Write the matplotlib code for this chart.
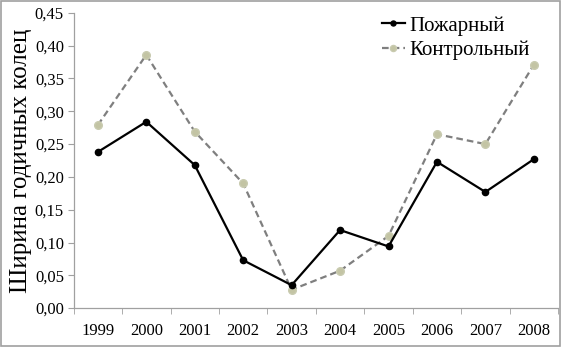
import matplotlib
matplotlib.use('Agg')
import matplotlib.pyplot as plt
from matplotlib.ticker import FuncFormatter, MultipleLocator, FixedLocator
from matplotlib.patches import Rectangle
import numpy as np

years = ['1999', '2000', '2001', '2002', '2003', '2004', '2005', '2006', '2007', '2008']
fire = [0.238, 0.284, 0.218, 0.073, 0.035, 0.119, 0.094, 0.223, 0.177, 0.227]
control = [0.279, 0.386, 0.269, 0.190, 0.028, 0.057, 0.110, 0.265, 0.250, 0.371]


def main():
    plt.rcParams['font.family'] = ['Liberation Serif', 'DejaVu Serif']
    fig = plt.figure(figsize=(5.62, 3.47), dpi=100)
    ax = fig.add_axes([0.131, 0.112, 0.862, 0.851])

    x = np.arange(len(years))
    ax.plot(x, fire, color='black', lw=1.6, marker='o', ms=4.5, label='Пожарный', zorder=3)
    ax.plot(x, control, color='#7f7f7f', lw=1.6, ls=(0, (3, 1.8)), marker='o', ms=5.5,
            mfc='#c3c4a4', mec='#c9cbb0', label='Контрольный', zorder=2)

    ax.set_xlim(-0.5, len(years) - 0.5)
    ax.set_ylim(0, 0.45)
    ax.yaxis.set_major_locator(MultipleLocator(0.05))
    ax.yaxis.set_major_formatter(FuncFormatter(lambda v, p: f'{v:.2f}'.replace('.', ',')))
    ax.set_xticks(x)
    ax.set_xticklabels(years)
    ax.xaxis.set_minor_locator(FixedLocator(np.arange(-0.5, len(years), 1.0)))
    ax.tick_params(axis='x', which='major', length=0, pad=11, labelsize=12)
    ax.tick_params(axis='x', which='minor', length=4, color='#a0a0a0', direction='out')
    ax.tick_params(axis='y', length=4, color='#a0a0a0', direction='out', labelsize=12, pad=3)

    for s in ['top', 'right']:
        ax.spines[s].set_visible(False)
    for s in ['left', 'bottom']:
        ax.spines[s].set_color('#a0a0a0')
        ax.spines[s].set_linewidth(0.9)

    ax.set_ylabel('Ширина годичных колец', fontsize=18, labelpad=2)
    ax.legend(loc='upper left', bbox_to_anchor=(0.597, 1.053), frameon=False, fontsize=15,
              handlelength=1.1, handletextpad=0.25, labelspacing=0.25, markerscale=0.8)

    fig.patches.append(Rectangle((0.002, 0.003), 0.995, 0.993, transform=fig.transFigure,
                                 fill=False, edgecolor='#a0a0a0', lw=1.2))
    fig.savefig('out.png', dpi=100)


if __name__ == '__main__':
    main()
